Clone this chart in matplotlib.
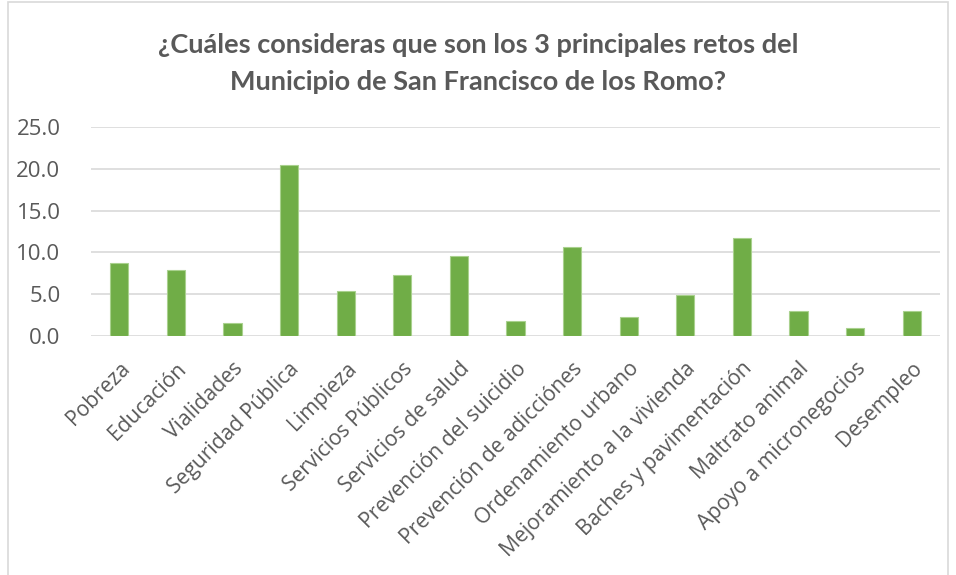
import numpy as np
import matplotlib.pyplot as plt

categorias = ["Pobreza", "Educación", "Vialidades", "Seguridad Pública", "Limpieza",
              "Servicios Públicos", "Servicios de salud", "Prevención del suicidio",
              "Prevención de adicciónes", "Ordenamiento urbano", "Mejoramiento a la vivienda",
              "Baches y pavimentación", "Maltrato animal", "Apoyo a micronegocios", "Desempleo"]
valores = [8.7, 7.9, 1.6, 20.5, 5.4, 7.3, 9.6, 1.8, 10.6, 2.3, 4.9, 11.7, 3.0, 0.9, 3.0]
yticks = [0, 5, 10, 15, 20, 25]

plt.rcParams['font.family'] = ['Open Sans', 'DejaVu Sans']
gris = "#595959"

fig = plt.figure(figsize=(9.56, 5.75), dpi=100)
ax = fig.add_axes([91 / 956, 1 - 336 / 575, (940 - 91) / 956, (336 - 127) / 575])

x = np.arange(len(categorias))
ax.bar(x, valores, width=0.32, color="#70ad47", edgecolor="#a9d18e", linewidth=0.8, zorder=3)

ax.set_xlim(-0.5, len(categorias) - 0.5)
ax.set_ylim(0, 25)
ax.set_yticks(yticks)
ax.set_yticklabels([f"{v:.1f}" for v in yticks], fontsize=16, color=gris)
ax.set_xticks(x)
ax.set_xticklabels(categorias, rotation=45, ha="right", rotation_mode="anchor",
                   fontsize=15.2, color=gris)
ax.tick_params(axis="y", length=0, pad=22)
ax.tick_params(axis="x", length=0, pad=16)
ax.grid(axis="y", color="#d9d9d9", linewidth=1.2, zorder=0)
for s in ax.spines.values():
    s.set_visible(False)

fig.text(0.5, 1 - 45 / 575, "¿Cuáles consideras que son los 3 principales retos del",
         ha="center", va="center", fontsize=19.5, fontweight="bold", color=gris, family="Lato")
fig.text(0.5, 1 - 82 / 575, "Municipio de San Francisco de los Romo?",
         ha="center", va="center", fontsize=19.5, fontweight="bold", color=gris, family="Lato")

# borde del gráfico
fig.patches.append(plt.Rectangle((8 / 956, -0.01), 940 / 956, 1 - 2 / 575 + 0.01,
                                 transform=fig.transFigure,
                                 fill=False, edgecolor="#d9d9d9", linewidth=1.2))

fig.savefig("out.png", dpi=100)
